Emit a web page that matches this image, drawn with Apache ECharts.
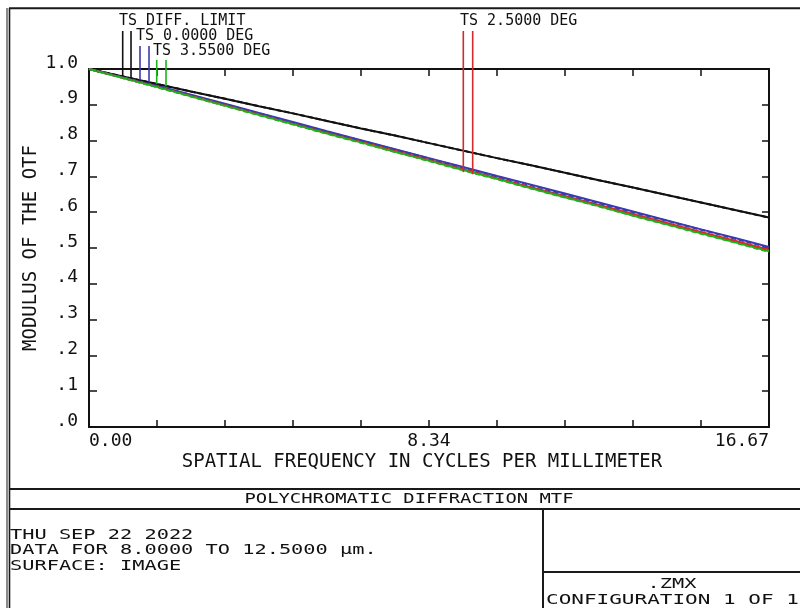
<!DOCTYPE html>
<html><head><meta charset="utf-8">
<script src="https://cdn.jsdelivr.net/npm/echarts@6.0.0/dist/echarts.min.js"></script>
<style>html,body{margin:0;padding:0;background:#fff}#c{width:800px;height:608px}</style>
</head><body><div id="c"></div>
<script>
// spatial frequency samples (cycles/mm)
const freq = [0, 0.8335, 1.667, 2.5005, 3.334, 4.1675, 5.001, 5.8345, 6.668, 7.5015, 8.335,
  9.1685, 10.002, 10.8355, 11.669, 12.5025, 13.336, 14.1695, 15.003, 15.8365, 16.67];
// MTF values
const diffT = [1.000, 0.979, 0.958, 0.937, 0.917, 0.896, 0.876, 0.855, 0.834, 0.814, 0.793,
  0.772, 0.751, 0.731, 0.710, 0.689, 0.669, 0.648, 0.627, 0.606, 0.585];
const diffS = [1.000, 0.979, 0.958, 0.937, 0.917, 0.896, 0.876, 0.855, 0.834, 0.814, 0.793,
  0.772, 0.751, 0.731, 0.710, 0.689, 0.669, 0.648, 0.627, 0.606, 0.585];
const deg0T = [1.000, 0.977, 0.953, 0.928, 0.903, 0.877, 0.852, 0.826, 0.801, 0.776, 0.751,
  0.726, 0.701, 0.677, 0.652, 0.627, 0.602, 0.577, 0.552, 0.528, 0.503];
const deg0S = [1.000, 0.976, 0.952, 0.927, 0.901, 0.876, 0.850, 0.825, 0.800, 0.775, 0.750,
  0.725, 0.700, 0.675, 0.650, 0.625, 0.600, 0.576, 0.551, 0.526, 0.501];
const deg25T = [1.000, 0.976, 0.951, 0.925, 0.899, 0.873, 0.848, 0.822, 0.797, 0.771, 0.746,
  0.720, 0.695, 0.670, 0.645, 0.620, 0.595, 0.570, 0.545, 0.520, 0.495];
const deg25S = [1.000, 0.975, 0.950, 0.924, 0.898, 0.872, 0.846, 0.821, 0.795, 0.770, 0.744,
  0.719, 0.694, 0.669, 0.643, 0.618, 0.593, 0.568, 0.543, 0.518, 0.493];
const deg355T = [1.000, 0.975, 0.950, 0.924, 0.898, 0.872, 0.846, 0.820, 0.795, 0.769, 0.744,
  0.718, 0.693, 0.667, 0.642, 0.617, 0.591, 0.566, 0.541, 0.516, 0.491];
const deg355S = [1.000, 0.975, 0.949, 0.923, 0.897, 0.871, 0.845, 0.819, 0.794, 0.768, 0.743,
  0.717, 0.692, 0.666, 0.641, 0.616, 0.590, 0.565, 0.540, 0.515, 0.489];

// legend labels and marker positions (frequency) and curve values at markers
const legendNames = ['TS DIFF. LIMIT', 'TS 0.0000 DEG', 'TS 3.5500 DEG', 'TS 2.5000 DEG'];
const markFreq = [[0.826, 1.030], [1.250, 1.471], [1.660, 1.888], [9.176, 9.406]];
const markVal = [[0.980, 0.975], [0.969, 0.963], [0.958, 0.952], [0.712, 0.706]];

// tick labels
const xTickLabels = {'0': '0.00', '8.335': '8.34', '16.67': '16.67'};
const yTickLabels = ['.0', '.1', '.2', '.3', '.4', '.5', '.6', '.7', '.8', '.9', '1.0'];

const footerTitle = 'POLYCHROMATIC DIFFRACTION MTF';
const footerLines = ['THU SEP 22 2022', 'DATA FOR 8.0000 TO 12.5000 \u00b5m.', 'SURFACE: IMAGE'];
const fileLine = '.ZMX';
const configLine = 'CONFIGURATION 1 OF 1';

const BLACK = '#111', BLUE = '#3b3bb0', RED = '#d42a2a', GREEN = '#1cb41c';
const FONT = 'DejaVu Sans Mono';

function pts(v) { return freq.map((f, i) => [f, v[i]]); }
function ser(name, v, color, dashed) {
  return {type: 'line', name, data: pts(v), showSymbol: false, symbol: 'none', silent: true,
    xAxisIndex: 0, yAxisIndex: 0, animation: false,
    lineStyle: {color, width: 2, type: dashed ? [5, 3] : 'solid'}, z: dashed ? 3 : 2};
}

const chart = echarts.init(document.getElementById('c'), null, {renderer: 'canvas'});
const axisLine = {show: true, onZero: false, lineStyle: {color: BLACK, width: 2}};
const option = {
  animation: false,
  backgroundColor: '#fff',
  grid: {left: 89, top: 69, right: 31, bottom: 181, containLabel: false, outerBoundsMode: 'none'},
  xAxis: [{
    type: 'value', min: 0, max: 16.67, interval: 1.667, position: 'bottom',
    axisLine, splitLine: {show: false},
    axisTick: {show: true, inside: true, length: 7, lineStyle: {color: BLACK, width: 1.5}},
    axisLabel: {show: true, margin: 5, color: BLACK, fontFamily: FONT, fontSize: 18,
      alignMinLabel: 'left', alignMaxLabel: 'right', showMinLabel: true, showMaxLabel: true,
      formatter: v => {
        for (const k in xTickLabels) { if (Math.abs(v - parseFloat(k)) < 0.01) return xTickLabels[k]; }
        return '';
      }},
    name: 'SPATIAL FREQUENCY IN CYCLES PER MILLIMETER', nameLocation: 'middle', nameGap: 26,
    nameMoveOverlap: false,
    nameTextStyle: {color: BLACK, fontFamily: FONT, fontSize: 19, padding: [0, 14, 0, 0]}
  }, {
    type: 'value', min: 0, max: 16.67, interval: 1.667, position: 'top',
    axisLine, splitLine: {show: false},
    axisTick: {show: true, inside: true, length: 7, lineStyle: {color: BLACK, width: 1.5}},
    axisLabel: {show: false}
  }],
  yAxis: [{
    type: 'value', min: 0, max: 1, interval: 0.1, position: 'left',
    axisLine, splitLine: {show: false},
    axisTick: {show: true, inside: true, length: 8, lineStyle: {color: BLACK, width: 1.5}},
    axisLabel: {show: true, margin: 11, color: BLACK, fontFamily: FONT, fontSize: 18,
      verticalAlign: 'bottom', lineHeight: 12,
      formatter: v => yTickLabels[Math.round(v * 10)]},
    name: 'MODULUS OF THE OTF', nameLocation: 'middle', nameGap: 48, nameRotate: 90,
    nameMoveOverlap: false,
    nameTextStyle: {color: BLACK, fontFamily: FONT, fontSize: 19}
  }, {
    type: 'value', min: 0, max: 1, interval: 0.1, position: 'right',
    axisLine, splitLine: {show: false},
    axisTick: {show: true, inside: true, length: 7, lineStyle: {color: BLACK, width: 1.5}},
    axisLabel: {show: false}
  }],
  series: [
    ser('DIFF T', diffT, BLACK, false), ser('DIFF S', diffS, BLACK, true),
    ser('0.0 T', deg0T, BLUE, false), ser('0.0 S', deg0S, BLUE, true),
    ser('2.5 T', deg25T, RED, false), ser('2.5 S', deg25S, RED, true),
    ser('3.55 T', deg355T, GREEN, false), ser('3.55 S', deg355S, GREEN, true)
  ]
};
chart.setOption(option);

// layout of legend labels (left x, centre y, marker top y)
const legendLayout = [[119, 21, 31], [136, 36, 46], [153, 51, 60], [460, 21, 31]];
const legendColors = [BLACK, BLUE, GREEN, RED];

const frame = '#1a1a1a';
const graphics = [
  {type: 'line', shape: {x1: 7, y1: 8, x2: 7, y2: 608}, style: {stroke: '#8a8a8a', lineWidth: 2}},
  {type: 'line', shape: {x1: 9.5, y1: 8, x2: 9.5, y2: 608}, style: {stroke: frame, lineWidth: 1.6}},
  {type: 'line', shape: {x1: 9, y1: 8.3, x2: 800, y2: 8.3}, style: {stroke: frame, lineWidth: 2}},
  {type: 'line', shape: {x1: 9, y1: 489, x2: 800, y2: 489}, style: {stroke: frame, lineWidth: 2}},
  {type: 'line', shape: {x1: 9, y1: 509, x2: 800, y2: 509}, style: {stroke: frame, lineWidth: 2}},
  {type: 'line', shape: {x1: 543, y1: 509, x2: 543, y2: 608}, style: {stroke: frame, lineWidth: 2}},
  {type: 'line', shape: {x1: 543, y1: 572, x2: 800, y2: 572}, style: {stroke: frame, lineWidth: 2}},
  {type: 'text', x: 409, y: 499, scaleX: 1.3,
    style: {text: footerTitle, fontFamily: FONT, fontSize: 14.5, fill: BLACK, textAlign: 'center', textVerticalAlign: 'middle'}},
  {type: 'text', x: 672, y: 584, scaleX: 1.45,
    style: {text: fileLine, fontFamily: FONT, fontSize: 14, fill: BLACK, textAlign: 'center', textVerticalAlign: 'middle'}},
  {type: 'text', x: 546, y: 600, scaleX: 1.5,
    style: {text: configLine, fontFamily: FONT, fontSize: 14, fill: BLACK, textAlign: 'left', textVerticalAlign: 'middle'}}
];
footerLines.forEach((t, i) => {
  graphics.push({type: 'text', x: 10, y: 535 + i * 15.5, scaleX: 1.45,
    style: {text: t, fontFamily: FONT, fontSize: 14, fill: BLACK, textAlign: 'left', textVerticalAlign: 'middle'}});
});
legendNames.forEach((t, k) => {
  const L = legendLayout[k];
  graphics.push({type: 'text', x: L[0], y: L[1],
    style: {text: t, fontFamily: FONT, fontSize: 15, fill: BLACK, textAlign: 'left', textVerticalAlign: 'middle'}});
  markFreq[k].forEach((f, j) => {
    const p = chart.convertToPixel({xAxisIndex: 0, yAxisIndex: 0}, [f, markVal[k][j]]);
    graphics.push({type: 'line', shape: {x1: p[0], y1: L[2], x2: p[0], y2: p[1]},
      style: {stroke: legendColors[k], lineWidth: 1.6}, z: 10});
  });
});
chart.setOption({graphic: graphics});
</script>
</body></html>
